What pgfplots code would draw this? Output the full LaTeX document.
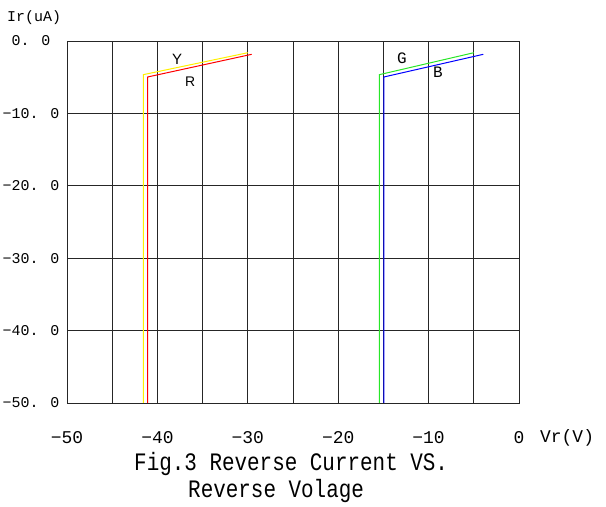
\documentclass[border=0pt]{standalone}
\usepackage{fontspec}
\setmainfont{Liberation Mono}
\newfontfamily\sansf{Liberation Sans}
\usepackage{pgfplots}
\pgfplotsset{compat=1.18}

\definecolor{cY}{RGB}{255,240,0}
\definecolor{cR}{RGB}{255,0,0}
\definecolor{cG}{RGB}{40,230,40}
\definecolor{cB}{RGB}{0,0,255}

\begin{document}
\begin{tikzpicture}[x=1bp,y=1bp]
\path[use as bounding box] (0,0) rectangle (606,507);
\begin{axis}[
    at={(67bp,104bp)}, anchor=south west,
    scale only axis, width=452bp, height=362bp,
    xmin=-50, xmax=0, ymin=-50, ymax=0,
    xtick={-50,-40,...,0},
    xticklabels={−50,−40,−30,−20,−10,0},
    ytick={-50,-40,...,0},
    yticklabels={−50. 0,−40. 0,−30. 0,−20. 0,−10. 0,0. 0},
    minor x tick num=1,
    major tick length=0, minor tick length=0,
    xmajorgrids, xminorgrids, ymajorgrids,
    grid style={black!85, line width=0.8bp},
    minor grid style={black!85, line width=0.8bp},
    axis line style={black!85, line width=0.8bp},
    xticklabel style={font=\fontsize{18}{18}\selectfont, anchor=center, inner sep=0pt, yshift=-35bp},
    yticklabel style={font=\fontsize{15}{15}\selectfont, anchor=center, inner sep=0pt, xshift=-36bp},
    clip=false,
]
% Y
\addplot[cY, line width=1bp] coordinates {(-41.56,-50) (-41.56,-4.65) (-30.0,-1.62)};
% R
\addplot[cR, line width=1bp] coordinates {(-41.07,-50) (-41.07,-4.97) (-29.57,-1.84)};
% G
\addplot[cG, line width=1bp] coordinates {(-15.44,-50) (-15.44,-4.65) (-5.0,-1.62)};
% B
\addplot[cB, line width=1bp] coordinates {(-14.94,-50) (-14.94,-4.97) (-3.95,-1.84)};

\node[font=\sansf\fontsize{15}{15}\selectfont] at (axis cs:-37.83,-2.49) {Y};
\node[font=\sansf\fontsize{14}{14}\selectfont] at (axis cs:-36.39,-5.66) {R};
\node[font=\fontsize{16}{16}\selectfont] at (axis cs:-12.94,-2.35) {G};
\node[font=\fontsize{16}{16}\selectfont] at (axis cs:-8.96,-4.35) {B};
\end{axis}

\node[anchor=west, inner sep=0pt, font=\fontsize{15}{15}\selectfont] at (7bp,489bp) {Ir(uA)};
\node[anchor=west, inner sep=0pt, font=\fontsize{18}{18}\selectfont] at (540bp,69bp) {Vr(V)};
\node[anchor=west, inner sep=0pt, font=\fontsize{21}{21}\selectfont, yscale=1.2, transform shape] at (134bp,43bp) {Fig.3 Reverse Current VS.};
\node[anchor=west, inner sep=0pt, font=\fontsize{21}{21}\selectfont, yscale=1.2, transform shape] at (188bp,16bp) {Reverse Volage};
\end{tikzpicture}
\end{document}
